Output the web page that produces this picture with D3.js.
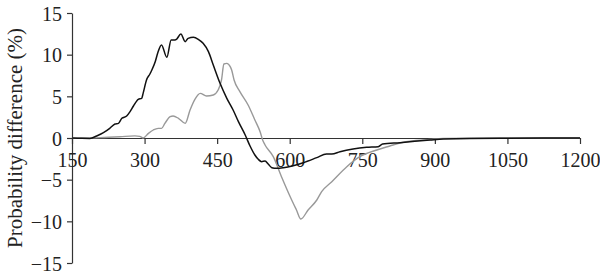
<!DOCTYPE html>
<html lang="en">
<head>
    <meta charset="UTF-8">
    <title>Probability difference</title>
    <script src="https://d3js.org/d3.v7.min.js"></script>
    <style>
        body { margin: 0; background: #fff; }
        .axis path,
        .axis line {
            fill: none;
            stroke: #333;
            stroke-width: 1.2px;
        }
        .axis text {
            font-family: "Liberation Serif", serif;
            font-size: 20px;
            fill: #222;
        }
    </style>
</head>
<body>
    <svg id="chart" width="600" height="275"></svg>
    <script>
        // black series
        const blackX = [150, 170, 187, 201, 215, 228, 239, 246, 253, 263, 270, 277, 287, 294, 297, 304, 311, 315, 322, 328,
            335, 346, 355, 363, 366, 375, 384, 390, 401, 411, 421, 432, 442, 456, 470, 483, 494, 508, 518, 528,
            535, 542, 549, 556, 563, 573, 587, 607, 628, 656, 676, 687, 704, 731, 759, 783, 792, 828, 890, 917,
            1035, 1200];
        const blackY = [0, -0.04, -0.05, 0.24, 0.64, 1.16, 1.68, 1.76, 2.36, 2.64, 3.16, 3.84, 4.64, 4.76, 5.36, 6.96, 7.68, 8.16, 9.16, 10.36,
            11.16, 9.68, 11.76, 11.76, 11.84, 12.48, 11.56, 11.96, 12.08, 11.84, 11.36, 10.36, 8.76, 6.56, 4.76, 3.36, 1.96, 0.36, -0.96, -2.04,
            -2.56, -2.84, -2.76, -3.16, -3.56, -3.64, -3.56, -3.32, -2.96, -2.36, -1.92, -1.92, -1.64, -1.32, -1.12, -1.04, -0.72, -0.56, -0.24, -0.12,
            -0.02, 0];

        // gray series
        const grayX = [150, 208, 249, 280, 290, 297, 308, 318, 328, 335, 342, 353, 359, 370, 384, 394, 404, 415, 428, 442,
            452, 459, 464, 470, 477, 480, 485, 497, 514, 528, 539, 544, 549, 566, 583, 601, 614, 623, 638, 656,
            666, 687, 718, 745, 780, 807, 828, 890, 917, 1035, 1200];
        const grayY = [0, 0.05, 0.15, 0.25, 0.2, 0, 0.56, 0.96, 1.16, 1.16, 1.76, 2.56, 2.64, 2.36, 1.76, 3.36, 4.64, 5.36, 5.04, 5.16,
            5.76, 6.96, 8.88, 8.96, 8.56, 8.16, 6.96, 5.56, 3.96, 2.16, 0.72, -0.24, -0.84, -2.24, -4.64, -7.04, -8.64, -9.72, -8.64, -7.44,
            -6.44, -5.24, -3.44, -2.24, -1.44, -0.96, -0.6, -0.18, -0.06, 0, 0];

        const xTicks = [150, 300, 450, 600, 750, 900, 1050, 1200];
        const yTicks = [-15, -10, -5, 0, 5, 10, 15];

        const svg = d3.select("#chart");

        const x = d3.scaleLinear().domain([150, 1200]).range([72, 580]);
        const y = d3.scaleLinear().domain([-15, 15]).range([263, 13]);

        // y axis
        svg.append("g")
            .attr("class", "axis")
            .attr("transform", `translate(${x(150)},0)`)
            .call(d3.axisLeft(y).tickValues(yTicks).tickSize(5).tickSizeOuter(0).tickPadding(5))
            .call(g => g.selectAll("text").attr("dy", "0.36em"));

        // x axis sits on zero
        svg.append("g")
            .attr("class", "axis")
            .attr("transform", `translate(0,${y(0)})`)
            .call(d3.axisBottom(x).tickValues(xTicks).tickFormat(d3.format("d"))
                .tickSize(6).tickSizeOuter(0).tickPadding(9));

        svg.append("text")
            .attr("transform", `translate(22,${y(0)}) rotate(-90)`)
            .attr("text-anchor", "middle")
            .attr("font-family", "Liberation Serif, serif")
            .attr("font-size", 21)
            .attr("fill", "#222")
            .text("Probability difference (%)");

        const line = d3.line()
            .x(d => x(d[0]))
            .y(d => y(d[1]))
            .curve(d3.curveMonotoneX);

        svg.append("path")
            .datum(d3.zip(grayX, grayY))
            .attr("d", line)
            .attr("fill", "none")
            .attr("stroke", "#999")
            .attr("stroke-width", 1.4);

        svg.append("path")
            .datum(d3.zip(blackX, blackY))
            .attr("d", line)
            .attr("fill", "none")
            .attr("stroke", "#111")
            .attr("stroke-width", 1.5);
    </script>
</body>
</html>
